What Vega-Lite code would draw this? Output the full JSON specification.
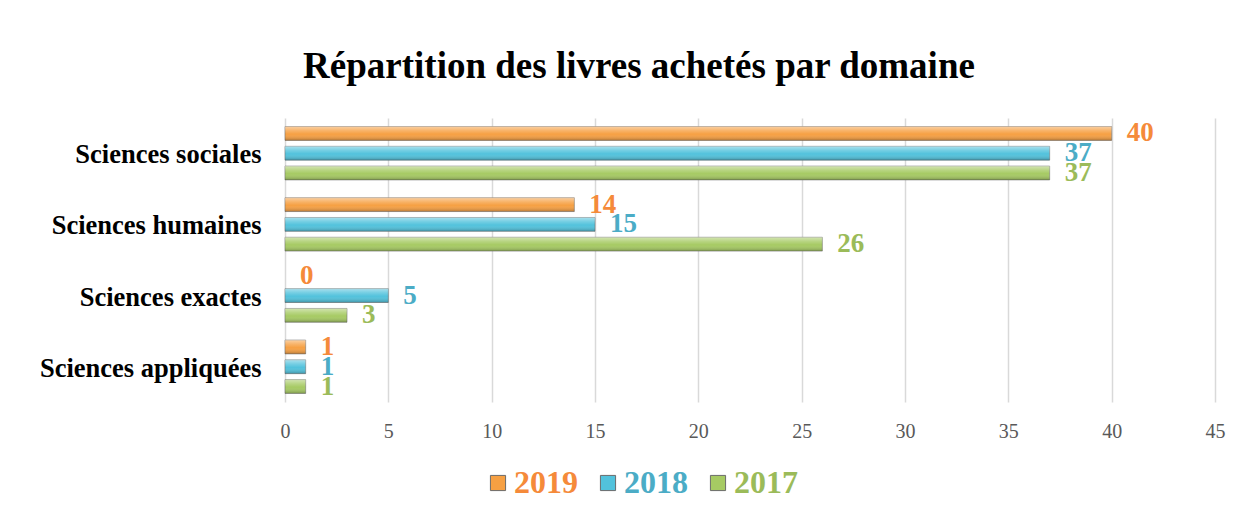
{
  "$schema": "https://vega.github.io/schema/vega-lite/v6.json",
  "width": 930,
  "height": 284,
  "autosize": "none",
  "padding": {"left": 285, "top": 118, "right": 39, "bottom": 124},
  "background": "white",
  "config": {"view": {"stroke": null}},
  "title": {
    "text": "Répartition des livres achetés par domaine",
    "font": "Liberation Serif",
    "fontSize": 37,
    "fontWeight": "bold",
    "color": "#000000",
    "anchor": "middle",
    "dx": -111,
    "offset": 32
  },
  "data": {
    "values": [
      {"domaine": "Sciences sociales", "annee": "2019", "valeur": 40},
      {"domaine": "Sciences sociales", "annee": "2018", "valeur": 37},
      {"domaine": "Sciences sociales", "annee": "2017", "valeur": 37},
      {"domaine": "Sciences humaines", "annee": "2019", "valeur": 14},
      {"domaine": "Sciences humaines", "annee": "2018", "valeur": 15},
      {"domaine": "Sciences humaines", "annee": "2017", "valeur": 26},
      {"domaine": "Sciences exactes", "annee": "2019", "valeur": 0},
      {"domaine": "Sciences exactes", "annee": "2018", "valeur": 5},
      {"domaine": "Sciences exactes", "annee": "2017", "valeur": 3},
      {"domaine": "Sciences appliquées", "annee": "2019", "valeur": 1},
      {"domaine": "Sciences appliquées", "annee": "2018", "valeur": 1},
      {"domaine": "Sciences appliquées", "annee": "2017", "valeur": 1}
    ]
  },
  "encoding": {
    "y": {
      "field": "domaine",
      "type": "nominal",
      "scale": {
        "domain": ["Sciences sociales", "Sciences humaines", "Sciences exactes", "Sciences appliquées"],
        "paddingInner": 0.25,
        "paddingOuter": 0.12
      },
      "axis": {
        "title": null,
        "domain": false,
        "ticks": false,
        "labelPadding": 24,
        "labelFont": "Liberation Serif",
        "labelFontSize": 26.5,
        "labelFontWeight": "bold",
        "labelColor": "#000000",
        "labelLimit": 400,
        "labelOffset": 2
      }
    },
    "yOffset": {
      "field": "annee",
      "type": "nominal",
      "scale": {"domain": ["2019", "2018", "2017"], "paddingInner": 0.3}
    },
    "x": {
      "field": "valeur",
      "type": "quantitative",
      "scale": {"domain": [0, 45], "nice": false},
      "axis": {
        "title": null,
        "values": [0, 5, 10, 15, 20, 25, 30, 35, 40, 45],
        "domain": false,
        "ticks": false,
        "grid": true,
        "gridColor": "#D9D9D9",
        "gridWidth": 1.5,
        "labelFlush": false,
        "labelPadding": 19,
        "labelFont": "Liberation Serif",
        "labelFontSize": 20,
        "labelColor": "#595959"
      }
    }
  },
  "layer": [
    {
      "mark": {"type": "bar", "stroke": "#6b6b6b", "strokeWidth": 0.8},
      "encoding": {
        "strokeOpacity": {
          "condition": {"test": "datum.valeur === 0", "value": 0},
          "value": 0.7
        },
        "color": {
          "field": "annee",
          "type": "nominal",
          "scale": {"domain": ["2019", "2018", "2017"], "range": ["#F6A043", "#52C2DC", "#A6CA63"]},
          "legend": {
            "title": null,
            "orient": "none",
            "direction": "horizontal",
            "legendX": 197,
            "legendY": 349,
            "symbolType": "square",
            "symbolSize": 230,
            "symbolStrokeColor": "#6b6b6b",
            "symbolStrokeWidth": 1,
            "labelFont": "Liberation Serif",
            "labelFontSize": 32,
            "labelFontWeight": "bold",
            "labelOffset": 0,
            "columnPadding": 14,
            "labelLimit": 200,
            "encode": {
              "labels": {
                "update": {
                  "fill": {"signal": "datum.value === '2019' ? '#F58A3A' : datum.value === '2018' ? '#4BACC6' : '#9BBB59'"}
                }
              }
            }
          }
        }
      }
    },
    {
      "mark": {
        "type": "bar",
        "color": {
          "gradient": "linear",
          "x1": 0, "y1": 0, "x2": 0, "y2": 1,
          "stops": [
            {"offset": 0, "color": "rgba(255,255,255,0.5)"},
            {"offset": 0.3, "color": "rgba(255,255,255,0.2)"},
            {"offset": 0.55, "color": "rgba(255,255,255,0)"},
            {"offset": 1, "color": "rgba(0,0,0,0.25)"}
          ]
        }
      }
    },
    {
      "mark": {
        "type": "text",
        "align": "left",
        "baseline": "middle",
        "dx": 15,
        "font": "Liberation Serif",
        "fontSize": 27,
        "fontWeight": "bold"
      },
      "encoding": {
        "text": {"field": "valeur", "type": "quantitative"},
        "fill": {
          "field": "annee",
          "type": "nominal",
          "scale": {"domain": ["2019", "2018", "2017"], "range": ["#F58A3A", "#4BACC6", "#9BBB59"]},
          "legend": null
        }
      }
    }
  ]
}
